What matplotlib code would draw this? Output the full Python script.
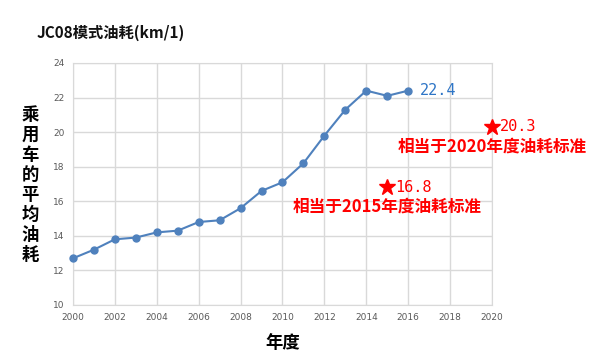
import matplotlib
matplotlib.use("Agg")
import matplotlib.pyplot as plt

plt.rcParams['font.family'] = ['Noto Sans CJK SC', 'DejaVu Sans']

years = [2000, 2001, 2002, 2003, 2004, 2005, 2006, 2007, 2008,
         2009, 2010, 2011, 2012, 2013, 2014, 2015, 2016]
consumption = [12.7, 13.2, 13.8, 13.9, 14.2, 14.3, 14.8, 14.9, 15.6,
               16.6, 17.1, 18.2, 19.8, 21.3, 22.4, 22.1, 22.4]
xticks = list(range(2000, 2021, 2))
yticks = list(range(10, 25, 2))
std_years = [2015, 2020]
std_values = [16.8, 20.3]
std_labels = ["相当于2015年度油耗标准", "相当于2020年度油耗标准"]
title = "JC08模式油耗(km/1)"
ylabel = "乘用车的平均油耗"
xlabel = "年度"

fig = plt.figure(figsize=(5.9, 3.62), dpi=100)
ax = fig.add_axes([0.1237, 0.1575, 0.7102, 0.6685])

line_color = "#4f81bd"
ax.plot(years, consumption, color=line_color, lw=1.5, marker="o", ms=5,
        markerfacecolor=line_color, markeredgecolor=line_color, zorder=3, clip_on=False)

ax.set_xlim(2000, 2020)
ax.set_ylim(10, 24)
ax.set_xticks(xticks)
ax.set_yticks(yticks)
ax.grid(True, color="#d9d9d9", lw=1)
for s in ax.spines.values():
    s.set_color("#d9d9d9")
ax.tick_params(length=0, labelsize=7, colors="#595959", pad=6)
for lbl in ax.get_xticklabels() + ax.get_yticklabels():
    lbl.set_family(['DejaVu Sans'])
    lbl.set_fontsize(6.5)

# last value label
ax.text(years[-1] + 0.55, consumption[-1], f"{consumption[-1]}", color="#2e75c6",
        fontsize=11, family=['DejaVu Sans Mono'], va="center", ha="left")

# standards
for yr, val, lab in zip(std_years, std_values, std_labels):
    ax.plot(yr, val, marker="*", ms=12, color="red", clip_on=False, zorder=4,
            markeredgecolor="red")
    ax.text(yr + 0.38, val, f"{val}", color="red", fontsize=11,
            family=['DejaVu Sans Mono'], va="center", ha="left", clip_on=False)
    ax.text(yr, val - 1.12, lab, color="red", fontsize=12, fontweight="bold",
            va="center", ha="center", clip_on=False)

fig.text(37 / 590, 1 - 33 / 362, title, fontsize=11, fontweight="bold",
         va="center", ha="left", color="#111111")

yl = "\n".join(ylabel)
fig.text(30 / 590, 1 - 185 / 362, yl, fontsize=12.5, fontweight="bold",
         va="center", ha="center", linespacing=1.15)

fig.text(283 / 590, 1 - 343 / 362, xlabel, fontsize=12.5, fontweight="bold",
         va="center", ha="center")

fig.savefig("out.png", dpi=100)
